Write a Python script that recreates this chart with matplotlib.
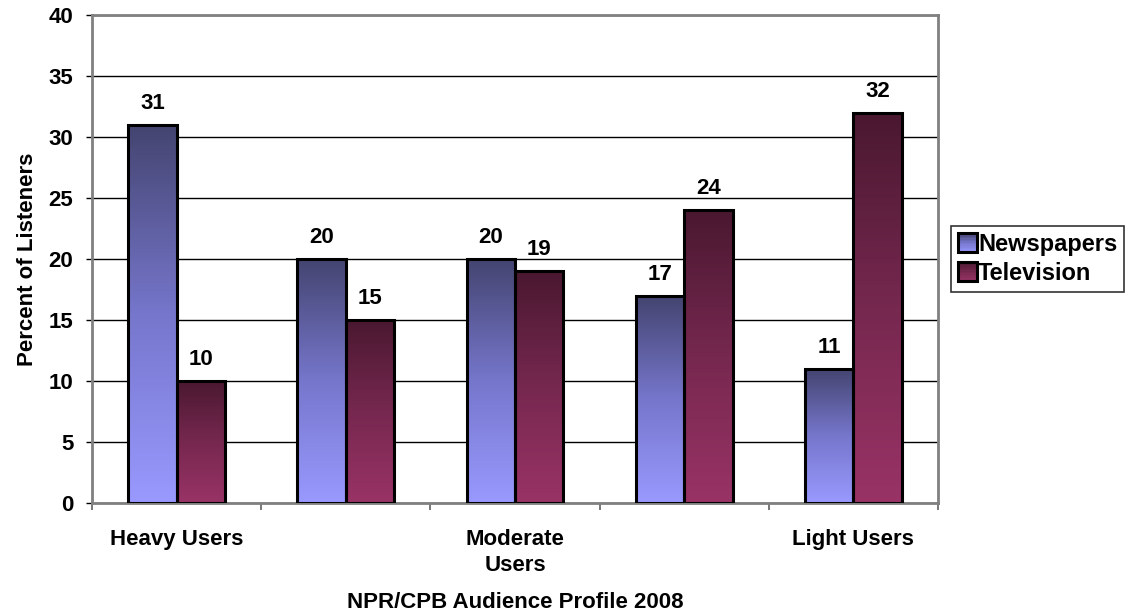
import numpy as np
import matplotlib
matplotlib.use("Agg")
import matplotlib.pyplot as plt
from matplotlib.colors import LinearSegmentedColormap
from matplotlib.legend_handler import HandlerBase
from matplotlib.patches import Rectangle

# data
groups = ["Heavy Users", "", "Moderate\nUsers", "", "Light Users"]
newspapers = [31, 20, 20, 17, 11]
television = [10, 15, 19, 24, 32]
series_names = ["Newspapers", "Television"]
yticks = [0, 5, 10, 15, 20, 25, 30, 35, 40]

plt.rcParams['font.family'] = ['Liberation Sans', 'DejaVu Sans']
plt.rcParams['font.weight'] = 'bold'

# dark at the top, light at the bottom
cmap_news = LinearSegmentedColormap.from_list("news", ["#9999ff", "#7676cc", "#444470"])
cmap_tv = LinearSegmentedColormap.from_list("tv", ["#993366", "#76284f", "#4a1830"])

fig = plt.figure(figsize=(11.3, 6.16), dpi=100)
ax = fig.add_axes([92/1130, 1 - 503/616, (938-92)/1130, (503-15)/616])

bw = 1 / 3.5  # excel gap width 150%
x = np.arange(len(groups)) + 0.5
grad = np.linspace(0, 1, 256).reshape(-1, 1)


def grad_bar(xl, h, cmap):
    # gradient fill then black outline on top
    ax.imshow(grad, cmap=cmap, extent=[xl, xl + bw, 0, h], origin='lower',
              aspect='auto', zorder=2, interpolation='bilinear')
    ax.add_patch(Rectangle((xl, 0), bw, h, fill=False, edgecolor='black',
                           linewidth=2.2, zorder=3))
    ax.text(xl + bw/2, h + 1.75, str(h), ha='center', va='center',
            fontsize=16, fontweight='bold', zorder=4)


for xi, n, t in zip(x, newspapers, television):
    grad_bar(xi - bw, n, cmap_news)
    grad_bar(xi, t, cmap_tv)

ax.set_xlim(0, len(groups))
ax.set_ylim(0, 40)
ax.set_yticks(yticks)
ax.tick_params(axis='y', labelsize=16, length=4.5, width=1, color='black', pad=9)
ax.set_xticks(x)
ax.set_xticklabels(groups, fontsize=16, fontweight='bold', linespacing=1.3)
ax.tick_params(axis='x', which='major', length=0, pad=19)
ax.set_xticks(np.arange(len(groups) + 1), minor=True)
ax.tick_params(axis='x', which='minor', length=5, width=1.2, color='#606060')
for lab in ax.get_yticklabels():
    lab.set_fontweight('bold')

ax.yaxis.grid(True, color='black', linewidth=1, zorder=1)
ax.set_axisbelow(True)
for sp in ax.spines.values():
    sp.set_color('#808080')
    sp.set_linewidth(2)

fig.text(28/1130, 1 - 259/616, "Percent of Listeners", rotation=90,
         ha='center', va='center', fontsize=16, fontweight='bold')
fig.text(515/1130, 1 - 602/616, "NPR/CPB Audience Profile 2008",
         ha='center', va='center', fontsize=16, fontweight='bold')


class GradHandler(HandlerBase):
    def __init__(self, cmap):
        super().__init__()
        self.cmap = cmap

    def create_artists(self, legend, orig_handle, xdescent, ydescent,
                       width, height, fontsize, trans):
        s = 13.5
        x0 = width - s
        y0 = (height - s) / 2
        arts = []
        n = 12
        for k in range(n):
            c = self.cmap(1 - (k + 0.5) / n)
            arts.append(Rectangle((x0, y0 + s - (k + 1) * s / n), s, s / n,
                                  facecolor=c, edgecolor='none', transform=trans))
        arts.append(Rectangle((x0, y0), s, s, fill=False, edgecolor='black',
                              linewidth=2.2, transform=trans))
        return arts


h1 = Rectangle((0, 0), 1, 1)
h2 = Rectangle((0, 0), 1, 1)
leg = fig.legend([h1, h2], series_names, loc='upper left',
                 bbox_to_anchor=(951/1130, 1 - 226/616),
                 handler_map={h1: GradHandler(cmap_news), h2: GradHandler(cmap_tv)},
                 prop={'size': 17, 'weight': 'bold'}, frameon=True, fancybox=False,
                 edgecolor='black', handlelength=0.8, handletextpad=0.05,
                 borderpad=0.3, labelspacing=0.25, borderaxespad=0)
leg.get_frame().set_linewidth(1.2)

fig.savefig("out.png", dpi=100)
